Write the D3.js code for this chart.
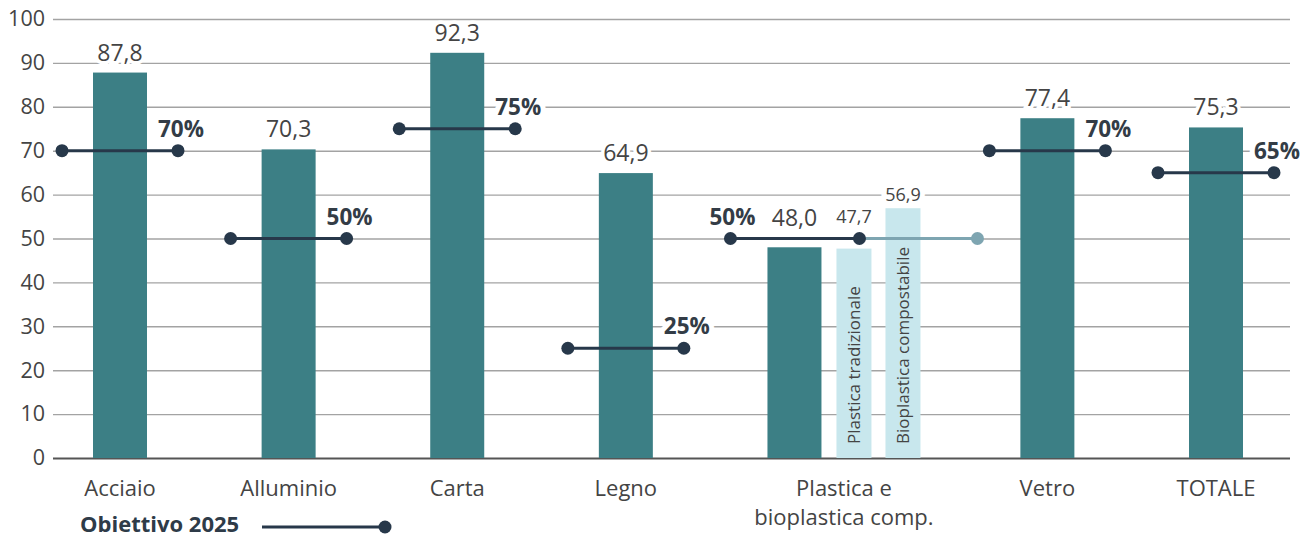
<!DOCTYPE html>
<html>
<head>
<meta charset="utf-8">
<script src="https://cdn.jsdelivr.net/npm/d3@7"></script>
<style>
  body { margin: 0; background: #fff; }
  text { font-family: "Open Sans", sans-serif; }
</style>
</head>
<body>
<script>
//chart data: recycling rate by material (%) and 2025 target
var categories = ["Acciaio", "Alluminio", "Carta", "Legno", "Plastica e bioplastica comp.", "Vetro", "TOTALE"];
var rates = [87.8, 70.3, 92.3, 64.9, 48.0, 77.4, 75.3];
var targets = [70, 50, 75, 25, 50, 70, 65];

//sub bars inside the plastic group
var plasticSub = ["Plastica tradizionale", "Bioplastica compostabile"];
var plasticSubRates = [47.7, 56.9];

var yTicks = [0, 10, 20, 30, 40, 50, 60, 70, 80, 90, 100];
var legendLabel = "Obiettivo 2025";

//format numbers with italian comma
function fmt(v){ return v.toFixed(1).replace(".", ","); }

window.onload = drawChart();

function drawChart(){

    var width = 1302,
        height = 539;

    var svg = d3.select("body")
        .append("svg")
        .attr("width", width)
        .attr("height", height);

    var colBar = "#3c7f85",
        colLight = "#c8e7ed",
        colTarget = "#27384a",
        colTargetLight = "#7ea5b1",
        colText = "#444",
        colGrid = "#a3a3a3";

    //y scale
    var y = d3.scaleLinear()
        .domain([0, 100])
        .range([458, 19]);

    //x scale on slot index, the plastic group takes half a slot more
    var slot = function(i){ return i + (i >= 5 ? 0.5 : 0); };
    var x = d3.scaleLinear()
        .domain([0, 6.5])
        .range([120, 1216]);

    var barW = 54;

    //sub-bar band scale inside the plastic group
    var px = x(slot(4));
    var subX = d3.scaleBand()
        .domain(plasticSub)
        .range([px + 42, px + 126])
        .paddingInner(0.286)
        .paddingOuter(0);

    //gridlines + y labels
    var yAxis = d3.axisLeft(y)
        .tickValues(yTicks)
        .tickSize(-(1290 - 53))
        .tickPadding(8)
        .tickFormat(d3.format("d"));

    var gy = svg.append("g")
        .attr("transform", "translate(53,0)")
        .call(yAxis);
    gy.select(".domain").remove();
    gy.selectAll(".tick line")
        .attr("stroke", function(d){ return d === 0 ? "#555" : colGrid; })
        .attr("stroke-width", function(d){ return d === 0 ? 2.2 : 1.4; });
    gy.selectAll(".tick text")
        .attr("fill", colText)
        .style("font-size", "21.5px");

    //main bars
    svg.selectAll(".bar")
        .data(rates)
        .enter()
        .append("rect")
        .attr("class", "bar")
        .attr("x", function(d, i){ return x(slot(i)) - barW / 2; })
        .attr("y", function(d){ return y(d); })
        .attr("width", barW)
        .attr("height", function(d){ return y(0) - y(d); })
        .attr("fill", colBar);

    //light sub bars
    svg.selectAll(".subbar")
        .data(plasticSubRates)
        .enter()
        .append("rect")
        .attr("class", "subbar")
        .attr("x", function(d, i){ return subX(plasticSub[i]); })
        .attr("y", function(d){ return y(d); })
        .attr("width", subX.bandwidth())
        .attr("height", function(d){ return y(0) - y(d); })
        .attr("fill", colLight);

    //rotated names inside sub bars
    svg.selectAll(".subname")
        .data(plasticSub)
        .enter()
        .append("text")
        .attr("class", "subname")
        .attr("transform", function(d){
            return "translate(" + (subX(d) + subX.bandwidth() / 2 + 6) + "," + (y(0) - 14) + ") rotate(-90)";
        })
        .attr("fill", colText)
        .style("font-size", "17px")
        .text(function(d){ return d; });

    //target lines
    var pi = 4;
    var tg = svg.append("g");
    targets.forEach(function(t, i){
        var cx = x(slot(i));
        var x1 = cx - 58, x2 = cx + 58, lx = x2 + 3;
        if (i === pi){
            x1 = px - 64;
            x2 = px + 65;
            lx = x1 + 2;
            //light extension
            tg.append("line")
                .attr("x1", x2).attr("x2", px + 183)
                .attr("y1", y(t)).attr("y2", y(t))
                .attr("stroke", colTargetLight)
                .attr("stroke-width", 3);
            tg.append("circle")
                .attr("cx", px + 183).attr("cy", y(t)).attr("r", 6.5)
                .attr("fill", colTargetLight);
        }
        tg.append("line")
            .attr("x1", x1).attr("x2", x2)
            .attr("y1", y(t)).attr("y2", y(t))
            .attr("stroke", colTarget)
            .attr("stroke-width", 3);
        tg.selectAll(null)
            .data([x1, x2])
            .enter()
            .append("circle")
            .attr("cx", function(d){ return d; })
            .attr("cy", y(t))
            .attr("r", 6.5)
            .attr("fill", colTarget);
        tg.append("text")
            .attr("x", lx)
            .attr("y", y(t) - 14)
            .attr("text-anchor", "middle")
            .attr("fill", "#333c46")
            .attr("stroke", "#fff")
            .attr("stroke-width", 10)
            .attr("paint-order", "stroke")
            .style("font-size", "22.5px")
            .style("font-weight", "bold")
            .text(t + "%");
    });

    //value labels
    svg.selectAll(".val")
        .data(rates)
        .enter()
        .append("text")
        .attr("class", "val")
        .attr("x", function(d, i){ return x(slot(i)); })
        .attr("y", function(d, i){ return Math.min(y(d) - 12, y(targets[i]) - 13); })
        .attr("text-anchor", "middle")
        .attr("fill", colText)
        .attr("stroke", "#fff")
        .attr("stroke-width", 7)
        .attr("paint-order", "stroke")
        .style("font-size", "23px")
        .text(fmt);

    svg.selectAll(".subval")
        .data(plasticSubRates)
        .enter()
        .append("text")
        .attr("class", "subval")
        .attr("x", function(d, i){ return subX(plasticSub[i]) + subX.bandwidth() / 2; })
        .attr("y", function(d){ return Math.min(y(d) - 7, y(targets[pi]) - 16); })
        .attr("text-anchor", "middle")
        .attr("fill", colText)
        .attr("stroke", "#fff")
        .attr("stroke-width", 10)
        .attr("paint-order", "stroke")
        .style("font-size", "18px")
        .text(fmt);

    //category labels (the plastic one is split on two lines)
    var groupCenter = (px - barW / 2 + subX(plasticSub[1]) + subX.bandwidth()) / 2;
    svg.selectAll(".cat")
        .data(categories)
        .enter()
        .append("text")
        .attr("class", "cat")
        .attr("x", function(d, i){ return i === pi ? groupCenter : x(slot(i)); })
        .attr("y", 496)
        .attr("text-anchor", "middle")
        .attr("fill", colText)
        .style("font-size", "22px")
        .text(function(d, i){ return i === pi ? "Plastica e" : d; });
    svg.append("text")
        .attr("class", "cat2")
        .attr("x", groupCenter)
        .attr("y", 525)
        .attr("text-anchor", "middle")
        .attr("fill", colText)
        .style("font-size", "22px")
        .text("bioplastica comp.");

    //legend
    var lg = svg.append("g");
    lg.append("text")
        .attr("x", 80)
        .attr("y", 532)
        .attr("fill", "#2e3b48")
        .style("font-size", "22px")
        .style("font-weight", "bold")
        .text(legendLabel);
    lg.append("line")
        .attr("x1", 262).attr("x2", 385)
        .attr("y1", 527).attr("y2", 527)
        .attr("stroke", colTarget)
        .attr("stroke-width", 3);
    lg.append("circle")
        .attr("cx", 385).attr("cy", 527).attr("r", 6.5)
        .attr("fill", colTarget);
};
</script>
</body>
</html>
